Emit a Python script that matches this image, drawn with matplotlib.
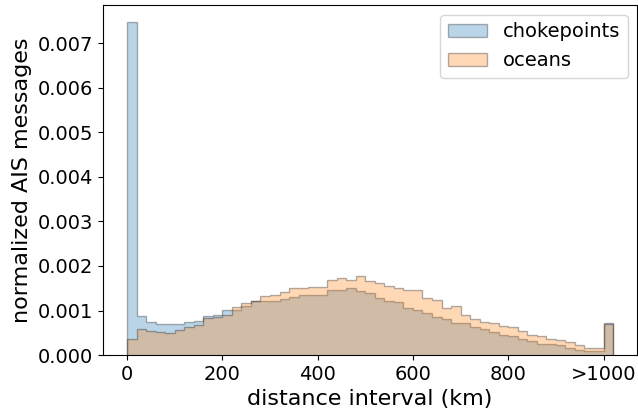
import numpy as np
import matplotlib
matplotlib.use("Agg")
import matplotlib.pyplot as plt

# 20 km bins from 0 to 1000, plus one ">1000" bin
bin_edges = np.arange(0, 1040, 20)

chokepoints = [
    0.00748, 0.00087, 0.00074, 0.00069, 0.00069, 0.00069, 0.00074, 0.00076, 0.00087, 0.00090,
    0.00102, 0.00101, 0.00111, 0.00122, 0.00121, 0.00122, 0.00126, 0.00130, 0.00134, 0.00135,
    0.00135, 0.00147, 0.00147, 0.00151, 0.00143, 0.00139, 0.00128, 0.00121, 0.00119, 0.00105,
    0.00102, 0.00095, 0.00085, 0.00082, 0.00073, 0.00071, 0.00063, 0.00058, 0.00052, 0.00046,
    0.00042, 0.00036, 0.00032, 0.00026, 0.00025, 0.00022, 0.00016, 0.00011, 0.00010, 0.00010,
    0.00071,
]
oceans = [
    0.00037, 0.00059, 0.00054, 0.00052, 0.00050, 0.00057, 0.00062, 0.00068, 0.00084, 0.00086,
    0.00091, 0.00108, 0.00116, 0.00122, 0.00132, 0.00135, 0.00141, 0.00150, 0.00150, 0.00153,
    0.00152, 0.00169, 0.00174, 0.00169, 0.00178, 0.00167, 0.00162, 0.00154, 0.00150, 0.00147,
    0.00145, 0.00128, 0.00124, 0.00106, 0.00111, 0.00091, 0.00082, 0.00074, 0.00073, 0.00065,
    0.00063, 0.00054, 0.00046, 0.00042, 0.00036, 0.00033, 0.00030, 0.00022, 0.00016, 0.00015,
    0.00069,
]

xtick_pos = [0, 200, 400, 600, 800, 1000]
xtick_labels = ["0", "200", "400", "600", "800", ">1000"]

fig = plt.figure(figsize=(6.38, 4.12), dpi=100)
ax = fig.add_axes([0.161, 0.138, 0.838, 0.850])

ax.stairs(chokepoints, bin_edges, fill=True, alpha=0.3, color="tab:blue",
          edgecolor="k", linewidth=1, label="chokepoints")
ax.stairs(oceans, bin_edges, fill=True, alpha=0.3, color="tab:orange",
          edgecolor="k", linewidth=1, label="oceans")

ax.set_xticks(xtick_pos)
ax.set_xticklabels(xtick_labels)
ax.tick_params(labelsize=14)
ax.set_xlabel("distance interval (km)", fontsize=16)
ax.set_ylabel("normalized AIS messages", fontsize=16)
ax.legend(fontsize=14, loc="upper right")

fig.savefig("out.png", dpi=100)
